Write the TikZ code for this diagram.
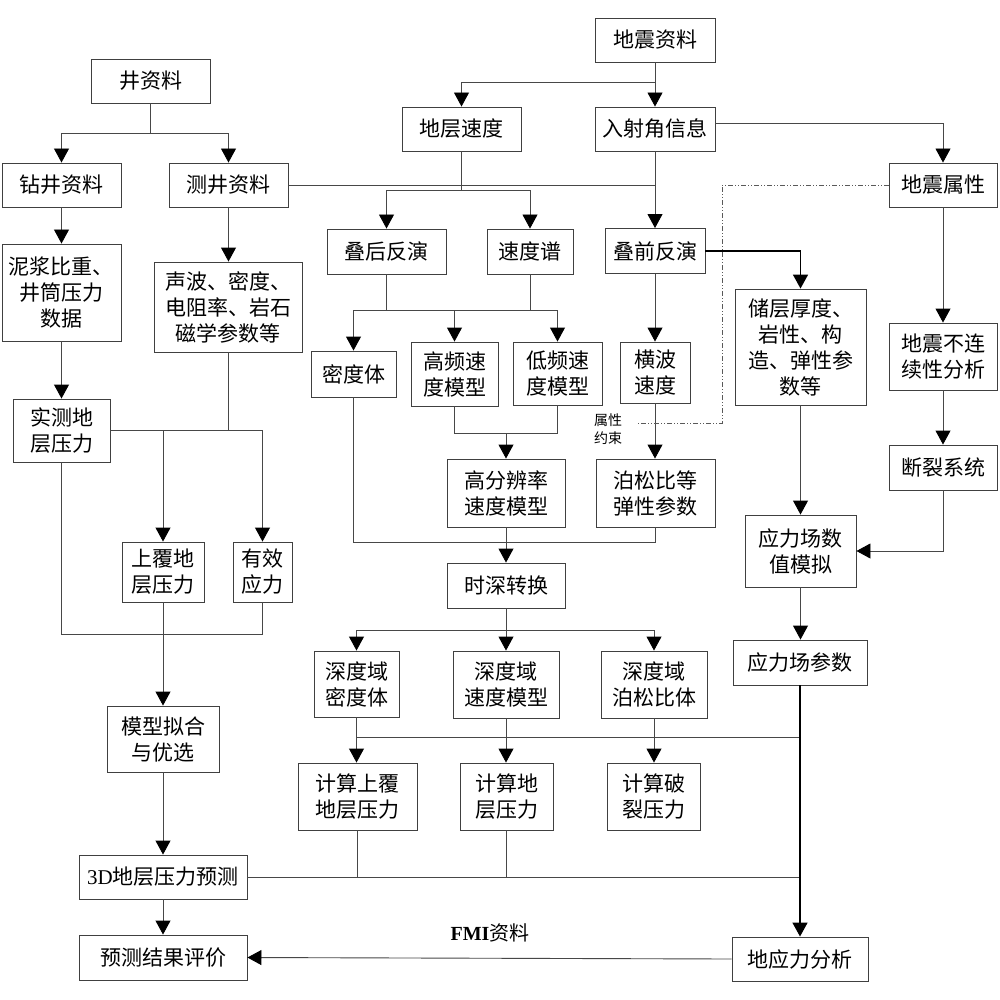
\documentclass[tikz,border=0pt]{standalone}
\usepackage{fontspec}
\setmainfont{Noto Sans CJK SC}
\newfontfamily\lat{Liberation Serif}
\usetikzlibrary{arrows.meta,calc}
\tikzset{
  bx/.style={draw=black!75, line width=0.9pt, inner sep=0pt, align=center,
             font=\fontsize{21}{26}\selectfont},
  ln/.style={draw=black!72, line width=0.9pt},
  arr/.style={ln, -{Triangle[width=15pt,length=14pt,color=black]}},
  tarr/.style={draw=black, line width=1.6pt, -{Triangle[width=15pt,length=14pt,color=black]}},
  ddash/.style={draw=black!65, line width=0.8pt, dash pattern=on 5pt off 2pt on 1pt off 2pt on 1pt off 2pt},
}
\newcommand{\B}[6]{\node[bx, minimum width=#4, minimum height=#5] (#1) at (#2,#3) {#6};}
\begin{document}
\begin{tikzpicture}[x=1pt,y=-1pt]
\useasboundingbox[fill=white] (0,0) rectangle (1000,1000);
% boxes
\B{jz}{150.5}{81}{119}{44}{井资料}
\B{zj}{61.5}{185}{119}{44}{钻井资料}
\B{cj}{228.5}{185}{119}{44}{测井资料}
\B{nj}{61.5}{292.5}{119}{97}{泥浆比重、\\井筒压力\\数据}
\B{sb}{228}{307}{148}{90}{声波、密度、\\电阻率、岩石\\磁学参数等}
\B{dzzl}{655}{40}{120}{44}{地震资料}
\B{dcsd}{461.5}{129}{119}{44}{地层速度}
\B{rsj}{655}{129}{120}{44}{入射角信息}
\B{dzsx}{943}{185}{108}{44}{地震属性}
\B{dhfy}{386.5}{251.5}{119}{45}{叠后反演}
\B{sdp}{530}{251.5}{86}{45}{速度谱}
\B{dqfy}{655}{251}{100}{45}{叠前反演}
\B{cc}{800.5}{347}{131}{116}{储层厚度、\\岩性、构\\造、弹性参\\数等}
\B{bl}{943}{356.5}{108}{67}{地震不连\\续性分析}
\B{mdt}{353.5}{374}{85}{46}{密度体}
\B{gp}{454.5}{374}{87}{64}{高频速\\度模型}
\B{dp}{557.5}{373.5}{89}{63}{低频速\\度模型}
\B{hb}{655}{372.5}{70}{61}{横波\\速度}
\B{dlxt}{943}{467.5}{108}{45}{断裂系统}
\B{gfb}{506}{493}{118}{68}{高分辨率\\速度模型}
\B{bsb}{655.5}{493}{119}{68}{泊松比等\\弹性参数}
\B{ylmn}{800.5}{551}{111}{72}{应力场数\\值模拟}
\B{sszh}{506}{585.5}{118}{45}{时深转换}
\B{ylcs}{800}{662.5}{134}{45}{应力场参数}
\B{sda}{356.5}{684}{85}{66}{深度域\\密度体}
\B{sdb}{506}{684.5}{106}{67}{深度域\\速度模型}
\B{sdc}{654}{684.5}{106}{67}{深度域\\泊松比体}
\B{sc}{61.5}{430.5}{97}{63}{实测地\\层压力}
\B{sf}{163}{572}{82}{60}{上覆地\\层压力}
\B{yx}{262.5}{572}{59}{60}{有效\\应力}
\B{mx}{163}{739}{112}{66}{模型拟合\\与优选}
\B{jsa}{357.5}{796.5}{119}{67}{计算上覆\\地层压力}
\B{jsb}{506.5}{796.5}{93}{67}{计算地\\层压力}
\B{jsc}{653.5}{796.5}{93}{67}{计算破\\裂压力}
\B{yc}{163}{877}{168}{44}{{\lat 3D}地层压力预测}
\B{pj}{163}{957.5}{168}{45}{预测结果评价}
\B{dyl}{800}{959}{136}{44}{地应力分析}
% labels
\node[inner sep=0pt, align=left, font=\fontsize{14}{18}\selectfont] (sxys) at (608,429) {属性\\约束};
\node[inner sep=0pt, font=\fontsize{20}{24}\selectfont] (fmi) at (490,933) {{\lat\bfseries FMI}资料};
% well branch
\draw[ln] (jz.south) -- (jz.south|-0,133);
\draw[arr] (jz.south|-0,133) -| (zj.north);
\draw[arr] (jz.south|-0,133) -| (cj.north);
\draw[arr] (zj.south) -- (nj.north);
\draw[arr] (nj.south) -- (sc.north);
\draw[arr] (cj.south) -- (cj.south|-sb.north);
\draw[ln] (cj.east) -- (655,185);
% seismic
\draw[arr] (dzzl.south) -- (rsj.north);
\draw[arr] (655,82) -| (dcsd.north);
\draw[arr] ($(rsj.east)+(0,-6)$) -| (dzsx.north);
\draw[ln] (dcsd.south) -- (dcsd.south|-0,190);
\draw[arr] (dcsd.south|-0,190) -| (dhfy.north);
\draw[arr] (dcsd.south|-0,190) -| (sdp.north);
\draw[arr] (rsj.south) -- (dqfy.north);
\draw[tarr] (dqfy.east) -| (cc.north);
\draw[ln] (dhfy.south) -- (dhfy.south|-0,310);
\draw[ln] (sdp.south) -- (sdp.south|-0,310);
\draw[ln] (mdt.north|-0,310) -- (dp.north|-0,310);
\draw[arr] (mdt.north|-0,310) -- (mdt.north);
\draw[arr] (gp.north|-0,310) -- (gp.north);
\draw[arr] (dp.north|-0,310) -- (dp.north);
\draw[arr] (dqfy.south) -- (hb.north);
\draw[arr] (hb.south) -- (hb.south|-bsb.north);
\draw[ln] (gp.south) -- (gp.south|-0,433) -| (dp.south);
\draw[arr] (506,433) -- (gfb.north);
\draw[ln] (mdt.south) -- (mdt.south|-0,542) -| (655,527);
\draw[arr] (gfb.south) -- (sszh.north);
\draw[ln] (sszh.south) -- (sszh.south|-0,630);
\draw[ln] (sda.north|-0,630) -- (sdc.north|-0,630);
\draw[arr] (sda.north|-0,630) -- (sda.north);
\draw[arr] (sdb.north|-0,630) -- (sdb.north);
\draw[arr] (sdc.north|-0,630) -- (sdc.north);
\draw[arr] (sda.south) -- (sda.south|-jsa.north);
\draw[arr] (sdb.south) -- (sdb.south|-jsb.north);
\draw[arr] (sdc.south) -- (sdc.south|-jsc.north);
\draw[ln] (ylcs.south|-0,737) -- (sda.south|-0,737);
\draw[ln] (jsa.south) -- (jsa.south|-0,877);
\draw[ln] (jsb.south) -- (jsb.south|-0,877);
\draw[ln] (yc.east) -- (ylcs.south|-yc.east);
\draw[tarr] (ylcs.south) -- (dyl.north);
\draw[arr] (dyl.west) -- (pj.east);
% right column
\draw[arr] (dzsx.south) -- (bl.north);
\draw[arr] (bl.south) -- (dlxt.north);
\draw[arr] (dlxt.south) |- (ylmn.east);
\draw[arr] (cc.south) -- (cc.south|-ylmn.north);
\draw[arr] (ylmn.south) -- (ylmn.south|-ylcs.north);
\draw[ddash] (dzsx.west) -- (722,185) -- (722,423) -- (638,423);
% left pressure
\draw[ln] (sb.south) -- (sb.south|-0,430);
\draw[ln] (sc.east|-0,430) -- (yx.north|-0,430);
\draw[arr] (sf.north|-0,430) -- (sf.north);
\draw[arr] (yx.north|-0,430) -- (yx.north);
\draw[ln] (sc.south) -- (sc.south|-0,634) -| (yx.south);
\draw[arr] (sf.south) -- (mx.north);
\draw[arr] (mx.south) -- (yc.north);
\draw[arr] (yc.south) -- (pj.north);
\end{tikzpicture}
\end{document}
